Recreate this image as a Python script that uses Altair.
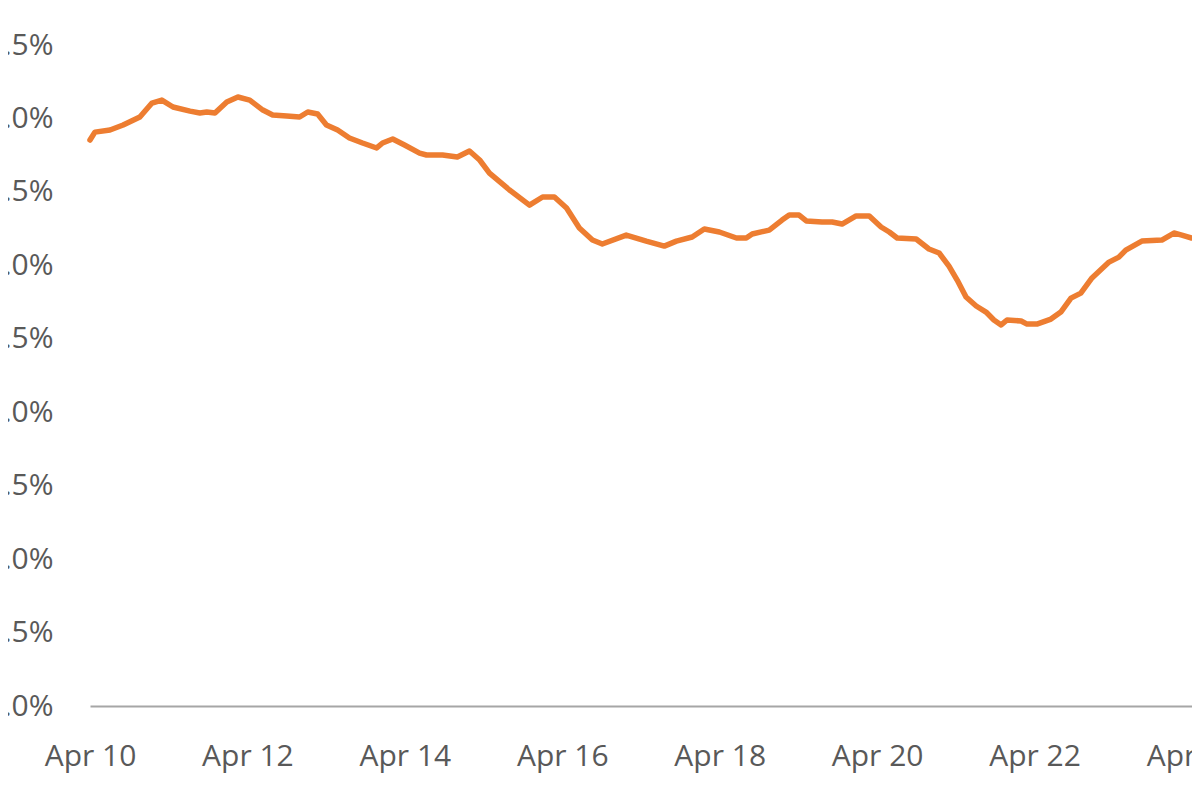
import altair as alt
import pandas as pd

# Hours elapsed since Apr 10 00:00 and the value (in %)
hours = [0.0, 1.5, 6.1, 10.1, 15.2, 18.9, 21.9, 25.3, 30.5, 33.5, 35.6, 38.1, 41.7, 45.1,
         48.7, 52.7, 55.7, 60.0, 63.9, 66.4, 69.4, 72.1, 75.5, 79.1, 83.1, 87.4, 89.2,
         92.3, 95.9, 100.5, 102.6, 107.5, 112.0, 115.7, 118.8, 121.8, 127.9, 134.0,
         138.0, 141.6, 145.3, 149.2, 153.2, 156.2, 163.5, 169.6, 175.1, 178.8, 183.6,
         187.3, 191.9, 197.1, 200.1, 201.9, 207.1, 211.0, 213.2, 216.2, 218.4, 223.2,
         226.3, 229.3, 233.6, 237.6, 241.2, 243.7, 246.1, 251.9, 255.8, 258.9, 261.9,
         264.4, 267.1, 270.2, 273.2, 275.6, 277.8, 279.6, 283.9, 285.7, 288.7, 293.0,
         296.0, 299.1, 302.1, 305.5, 310.7, 313.7, 315.8, 320.7, 326.8, 330.5, 332.9,
         335.9]
values = [3.853, 3.907, 3.921, 3.955, 4.010, 4.105, 4.125, 4.078, 4.050, 4.037, 4.044,
          4.037, 4.112, 4.146, 4.125, 4.057, 4.023, 4.016, 4.010, 4.044, 4.030, 3.955,
          3.921, 3.867, 3.833, 3.799, 3.833, 3.860, 3.819, 3.764, 3.751, 3.751, 3.737,
          3.778, 3.717, 3.628, 3.513, 3.410, 3.465, 3.465, 3.390, 3.254, 3.172, 3.145,
          3.206, 3.165, 3.131, 3.165, 3.193, 3.247, 3.227, 3.186, 3.186, 3.213, 3.240,
          3.308, 3.342, 3.342, 3.302, 3.295, 3.295, 3.281, 3.336, 3.336, 3.261, 3.227,
          3.186, 3.179, 3.111, 3.084, 2.995, 2.900, 2.784, 2.723, 2.682, 2.628, 2.594,
          2.628, 2.621, 2.600, 2.600, 2.634, 2.682, 2.777, 2.811, 2.914, 3.022, 3.056,
          3.104, 3.165, 3.172, 3.220, 3.206, 3.186]

tick_days = [10, 12, 14, 16, 18, 20, 22, 24]
y_ticks = [0.0, 0.5, 1.0, 1.5, 2.0, 2.5, 3.0, 3.5, 4.0, 4.5]

base = pd.Timestamp("2024-04-10", tz="UTC")
times = [(base + pd.to_timedelta(h, unit="h")).strftime("%Y-%m-%dT%H:%M:%SZ") for h in hours]
df = pd.DataFrame({"time": times, "value": values})

FONT = "Open Sans"
TEXT = "#595959"

x_axis = alt.Axis(
    values=[alt.DateTime(year=2024, month=4, date=d, utc=True) for d in tick_days],
    labelExpr="utcFormat(datum.value, '%b %d')",
    grid=False, ticks=False, tickSize=0,
    domain=True, domainColor="#A6A6A6", domainWidth=2,
    labelFont=FONT, labelFontSize=30, labelColor=TEXT,
    labelPadding=35, labelFlush=False, labelOverlap=False, labelBound=False,
)
y_axis = alt.Axis(
    values=y_ticks,
    labelExpr="format(datum.value, '.1f') + '%'",
    grid=False, ticks=False, tickSize=0, domain=False,
    labelFont=FONT, labelFontSize=30, labelColor=TEXT,
    labelPadding=37, labelFlush=False, labelOverlap=False, labelBound=False,
)

chart = alt.Chart(df).mark_line(
    color="#ED7D31", strokeWidth=5.5, strokeCap="round", strokeJoin="round"
).encode(
    x=alt.X("time:T", title=None, axis=x_axis,
            scale=alt.Scale(type="utc", domain=[
                alt.DateTime(year=2024, month=4, date=10, utc=True),
                alt.DateTime(year=2024, month=4, date=24, utc=True)])),
    y=alt.Y("value:Q", title=None, axis=y_axis,
            scale=alt.Scale(domain=[0, 4.5], nice=False, zero=True)),
).properties(
    width=1102,
    height=661,
    autosize=alt.AutoSizeParams(type="none"),
    padding={"left": 82, "top": 37, "right": 0, "bottom": 86},
    background="white",
).configure_view(strokeWidth=0)

chart.save("out.html", embed_options={"renderer": "svg", "actions": False})
